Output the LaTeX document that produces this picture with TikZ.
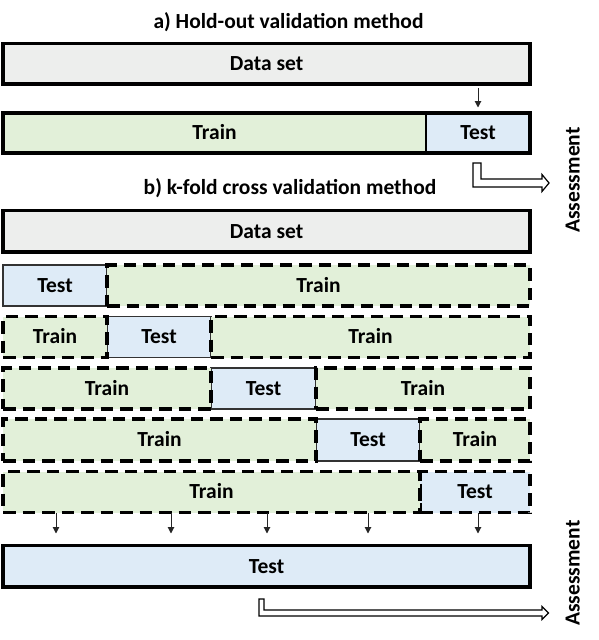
\documentclass[tikz,border=0pt]{standalone}
\usepackage{fontspec}
\setmainfont{Carlito}
\usetikzlibrary{arrows.meta}
\definecolor{dsgray}{HTML}{EDEEED}
\definecolor{trgreen}{HTML}{E2F0D9}
\definecolor{tsblue}{HTML}{DEEBF7}
\newcommand\lblfont{\fontsize{21.5}{24}\selectfont\bfseries}
\tikzset{
  base/.style={inner sep=0pt, outer sep=0pt, anchor=north west, font=\lblfont,
    text height=13.8pt, text depth=0pt},
  solidbox/.style={base, draw=black, line width=3.5pt},
  dashbox/.style={base, draw=black, line width=3.2pt, dash pattern=on 12.5pt off 7pt},
  thinbox/.style={base, draw=black!80, line width=1.4pt},
  smallarrow/.style={draw=black!85, line width=1pt, -{Triangle[length=6.5pt,width=6.5pt]}},
  hollow/.style={draw=black, line width=1.2pt, fill=white, line join=miter},
  title/.style={font=\lblfont, anchor=base, inner sep=0pt},
}
\begin{document}
\begin{tikzpicture}[x=1pt,y=-1pt]
\useasboundingbox (0,0) rectangle (598,640);

% ---------- a) hold-out ----------
\node[title] (ta) at (288.5,28) {a) Hold-out validation method};
\node[solidbox, fill=dsgray, minimum width=527pt, minimum height=40.5pt] (dsa) at (3,43.5) {Data set};
\node[base, fill=trgreen, minimum width=423pt, minimum height=40pt] (htr) at (3,113) {Train};
\node[base, fill=tsblue, minimum width=104pt, minimum height=40pt] (hts) at (426,113) {Test};
\draw[line width=2.2pt] (htr.north east) -- (htr.south east);
\node[base, draw=black, line width=3.5pt, minimum width=527pt, minimum height=40pt] (hrow) at (3,113) {};
\coordinate (ha1) at (478,88);
\coordinate (ha2) at (478,107.5);
\draw[smallarrow] (ha1) -- (ha2);

% hollow arrow (top)
\draw[hollow] (473,163) -- (481,163) -- (481,179) -- (542,179) -- (542,174.5)
  -- (549,183) -- (542,191.5) -- (542,187) -- (473,187) -- cycle;
\node[font=\lblfont, rotate=90, anchor=base, inner sep=0pt] (as1) at (579.5,180) {Assessment};

% ---------- b) k-fold ----------
\node[title] (tb) at (290,194) {b) k-fold cross validation method};
\node[solidbox, fill=dsgray, minimum width=527pt, minimum height=41.5pt] (dsb) at (3,210.5) {Data set};

% row 1
\node[thinbox, fill=tsblue, minimum width=104pt, minimum height=41pt] (r1a) at (3,265) {Test};
\node[dashbox, fill=trgreen, minimum width=423pt, minimum height=41pt] (r1b) at (107,265) {Train};
% row 2
\node[thinbox, fill=tsblue, minimum width=104pt, minimum height=41pt] (r2b) at (107,316.5) {Test};
\node[dashbox, fill=trgreen, minimum width=104pt, minimum height=41pt] (r2a) at (3,316.5) {Train};
\node[dashbox, fill=trgreen, minimum width=319pt, minimum height=41pt] (r2c) at (211,316.5) {Train};
% row 3
\node[thinbox, fill=tsblue, minimum width=105pt, minimum height=41pt] (r3b) at (211,368) {Test};
\node[dashbox, fill=trgreen, minimum width=208pt, minimum height=41pt] (r3a) at (3,368) {Train};
\node[dashbox, fill=trgreen, minimum width=214pt, minimum height=41pt] (r3c) at (316,368) {Train};
% row 4
\node[thinbox, fill=tsblue, minimum width=104pt, minimum height=42pt] (r4b) at (316,419) {Test};
\node[dashbox, fill=trgreen, minimum width=313pt, minimum height=42pt] (r4a) at (3,419) {Train};
\node[dashbox, fill=trgreen, minimum width=110pt, minimum height=42pt] (r4c) at (420,419) {Train};
% row 5
\node[dashbox, fill=tsblue, minimum width=110pt, minimum height=41pt] (r5b) at (420,471.5) {Test};
\node[dashbox, fill=trgreen, minimum width=417pt, minimum height=41pt] (r5a) at (3,471.5) {Train};

% arrows to final test
\foreach \i/\xx in {1/56,2/171,3/267,4/368,5/478}{
  \coordinate (ks\i) at (\xx,513);
  \coordinate (ke\i) at (\xx,533.5);
  \draw[smallarrow] (ks\i) -- (ke\i);
}

\node[solidbox, fill=tsblue, minimum width=527pt, minimum height=41.5pt] (ft) at (3,545.5) {Test};

% hollow arrow (bottom)
\draw[hollow] (259,599) -- (264,599) -- (264,610) -- (542,610) -- (542,606.5)
  -- (548.5,613) -- (542,619.5) -- (542,616) -- (259,616) -- cycle;
\node[font=\lblfont, rotate=90, anchor=base, inner sep=0pt] (as2) at (579.5,573) {Assessment};
\end{tikzpicture}
\end{document}
